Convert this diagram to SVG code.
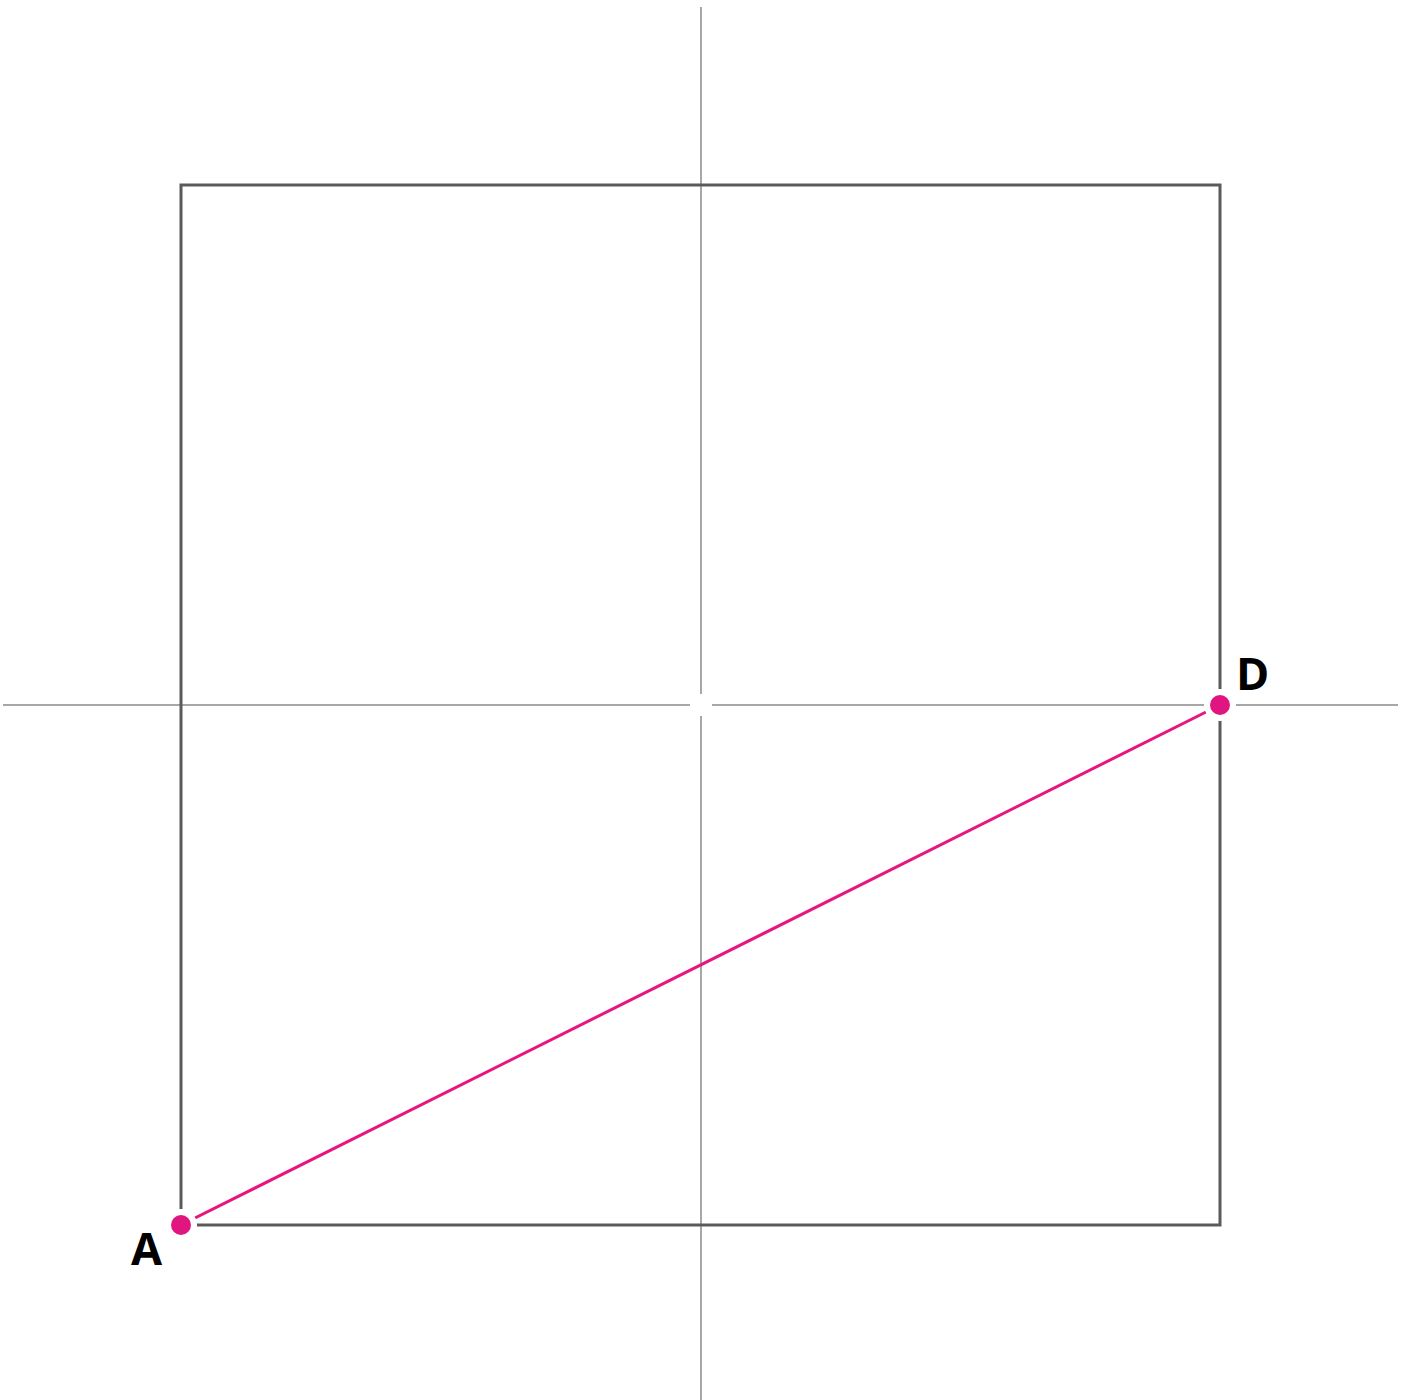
<svg xmlns="http://www.w3.org/2000/svg" width="1408" height="1400" viewBox="0 0 1408 1400">
<style>
.axis{stroke:#8a8a8a;stroke-width:1.5;fill:none}
.sq{stroke:#5a5a5a;stroke-width:3;fill:none;stroke-linecap:square}
.seg{stroke:#e6157f;stroke-width:3;fill:none}
.pt{fill:#e0157f;stroke:#fff;stroke-width:6}
.lbl{font-family:"Open Sans","Noto Sans",sans-serif;font-weight:700;font-size:45px;fill:#000}
</style>
<rect width="1408" height="1400" fill="#fff"/>
<g id="axes">
<line class="axis" x1="701" y1="7" x2="701" y2="1400"/>
<line class="axis" x1="3" y1="705" x2="1398" y2="705"/>
<rect x="690" y="694" width="22" height="22" fill="#fff"/>
</g>
<g id="square">
<path class="sq" d="M181,1225 V185 H1220 V1225 Z"/>
</g>
<g id="connectors">
<line class="seg" x1="181" y1="1225" x2="1220" y2="705"/>
</g>
<g id="A">
<circle class="pt" cx="181" cy="1225" r="13"/>
<text class="lbl" x="131" y="1265">A</text>
</g>
<g id="D">
<circle class="pt" cx="1220" cy="705" r="13"/>
<text class="lbl" x="1236" y="690">D</text>
</g>
</svg>
